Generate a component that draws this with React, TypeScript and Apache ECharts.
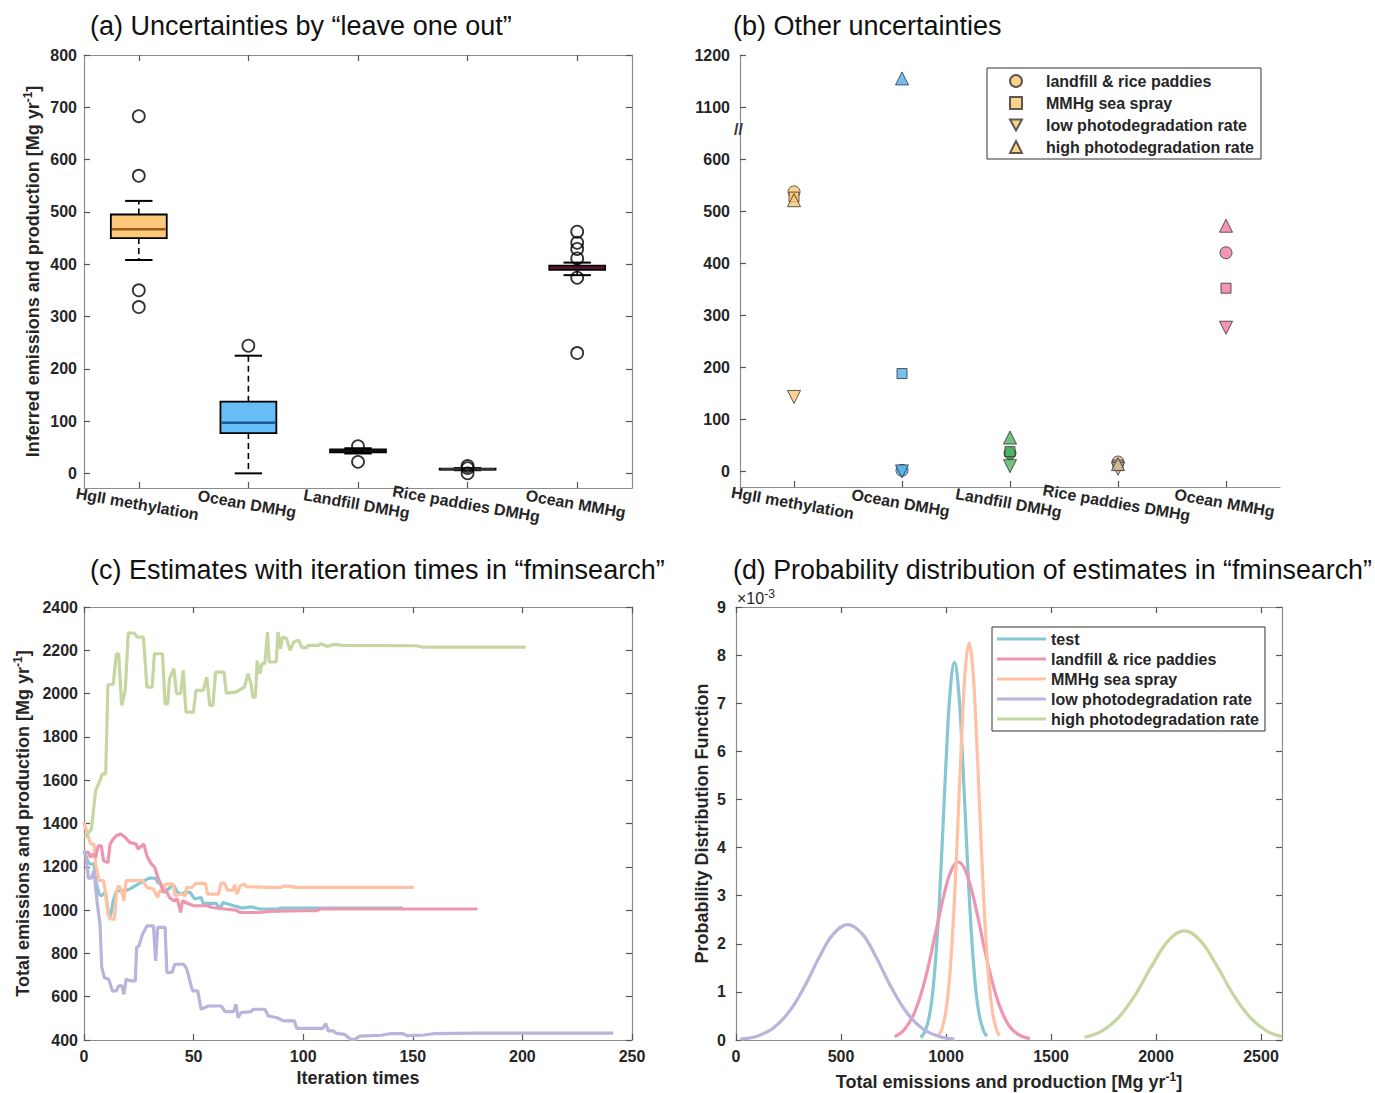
import React, { useEffect, useRef } from 'react';
import * as echarts from 'echarts';

const FONT = '"Liberation Sans", Arial, Helvetica, sans-serif';
const AXIS_GRAY = '#8c8c8c';
const TXT = '#262626';

// ---------- Panel (a): leave-one-out box plots ----------
const categories = ['HgII methylation', 'Ocean DMHg', 'Landfill DMHg', 'Rice paddies DMHg', 'Ocean MMHg'];
const boxLow = [408, 0, 38, 6, 379];
const boxQ1 = [450, 77, 40, 7, 389];
const boxMedian = [467, 97, 43, 8, 393];
const boxQ3 = [495, 137, 46, 9, 397];
const boxHigh = [521, 225, 48, 10, 403];
const outlierCategory = [0, 0, 0, 0, 1, 2, 2, 3, 3, 3, 4, 4, 4, 4, 4, 4];
const outlierValues = [683, 569, 350, 318, 244, 52, 22, 14, 10, 0, 462, 441, 429, 411, 374, 230];
const boxFill = ['#fec97c', '#66bdf7', '#2c6a3a', '#c9b79c', '#8e214e'];
const boxMedianColor = ['#9a5a18', '#1b5b95', '#111111', '#333333', '#5a0f30'];
const yTicksA = [0, 100, 200, 300, 400, 500, 600, 700, 800];

// ---------- Panel (b): other uncertainties ----------
const scenarioNames = ['landfill & rice paddies', 'MMHg sea spray', 'low photodegradation rate', 'high photodegradation rate'];
const circleValues = [537, 2, 35, 18, 420];
const squareValues = [527, 188, 38, 12, 352];
const downTriValues = [143, 0, 10, 5, 276];
const upTriValues = [521, 1155, 65, 14, 472];
const categoryColors = ['#fdc672', '#4fb0ee', '#52b264', '#d6b796', '#f07aa0'];
const circleColors = ['#fdc672', '#4fb0ee', '#129a3a', '#d6b796', '#f07aa0'];
const yTicksB = [0, 100, 200, 300, 400, 500, 600, 1100, 1200];
const BREAK_ABOVE = 1000;
const BREAK_SHIFT = 400;
const brk = (v: number) => (v > BREAK_ABOVE ? v - BREAK_SHIFT : v);
const unbrk = (v: number) => (v > BREAK_ABOVE - BREAK_SHIFT ? v + BREAK_SHIFT : v);

// ---------- Panel (c): estimates vs iteration ----------
const testIter = [[0,1274],[2,1220],[3,1213],[4.6,1213],[5.3,1136],[6.9,1074],[7.9,1066],[9.9,1082],[10.9,997],[11.9,958],[13.3,1043],[14.8,1089],[18.8,1089],[20.8,1097],[24.7,1120],[29.7,1148],[32.7,1148],[33.6,1128],[35,1120],[36.6,1089],[38.6,1097],[40.6,1120],[42.6,1082],[44.5,1074],[46.1,1082],[48.5,1082],[50.5,1051],[53.4,1058],[54.4,1031],[60.4,1031],[62,1005],[63.4,1035],[68.3,1020],[72.2,1009],[76.2,1015],[80.2,1005],[88.1,1005],[90,1009],[145.5,1009]];
const landfillIter = [[0,1267],[2,1267],[3,1243],[4,1259],[5.3,1243],[6.5,1297],[7.9,1297],[8.9,1228],[10.9,1220],[11.9,1305],[13.3,1328],[14.8,1344],[16.8,1351],[18.8,1336],[20.8,1313],[23.8,1305],[24.7,1282],[27.3,1305],[28.7,1251],[30.7,1213],[32.3,1197],[33.6,1154],[35,1120],[36.2,1082],[37.6,1089],[39,1058],[41,1043],[42.6,1051],[44.1,989],[44.9,1043],[46.5,1035],[47.9,1028],[50.1,1020],[56.4,1020],[58.4,1012],[64.3,1005],[69.3,1000],[71.3,989],[80.2,989],[84.1,994],[100,997],[105.9,997],[107.9,1005],[179.5,1005]];
const seaSprayIter = [[0,1405],[2,1336],[3,1305],[4.6,1305],[5.3,1213],[6.9,1136],[8.9,1136],[9.9,1074],[10.9,981],[12.5,958],[13.9,958],[14.8,1082],[15.8,1113],[17.2,1089],[18.2,1043],[19.2,1136],[26.7,1136],[28.7,1105],[31.7,1097],[33.6,1058],[34.6,1089],[36.2,1089],[37,1120],[40.6,1120],[41.6,1066],[44.5,1074],[46.1,1066],[46.9,1105],[49.5,1105],[50.9,1123],[55.4,1123],[56.4,1074],[61.4,1074],[62.4,1123],[64.3,1123],[65.3,1092],[67.9,1092],[68.7,1117],[69.8,1074],[71.3,1113],[73.2,1120],[74.2,1108],[84.1,1105],[90,1105],[91,1111],[94,1111],[96,1105],[150.4,1105]];
const lowIter = [[0,1274],[1,1243],[2,1148],[3.4,1148],[4.6,1182],[5.9,1043],[7.3,935],[8.1,735],[9.3,688],[11.3,681],[12.9,627],[14.8,627],[15.8,650],[17.4,650],[18.2,611],[19.2,681],[21.4,673],[23.4,673],[24,827],[25.1,835],[26.7,889],[28.7,927],[31.7,927],[32.7,765],[33.6,920],[37,920],[37.8,712],[40.2,712],[41.4,750],[45.5,750],[46.9,727],[47.9,688],[49.5,627],[51.9,627],[53.4,542],[56.8,557],[62.7,557],[64.3,531],[68.3,531],[69.3,565],[70.3,503],[71.7,527],[76.2,531],[77.2,542],[82.5,542],[84.1,511],[88.1,503],[91,488],[96,488],[97,454],[108.9,454],[110.3,476],[111.4,442],[113.8,442],[114.8,432],[118.8,426],[121.7,403],[123.7,403],[125.7,418],[135.6,422],[139.5,429],[145.5,429],[147.5,420],[155.4,423],[159.3,429],[179,432],[241.5,432]];
const highIter = [[0.4,1336],[3.4,1375],[5.3,1552],[7.3,1598],[8.3,1629],[9.9,1629],[10.9,2042],[13.3,2042],[14.8,2184],[15.8,2184],[17.2,1945],[18.8,2015],[20.2,2280],[22.8,2280],[24.3,2261],[27.1,2261],[28.7,2030],[31.1,2030],[32.1,2184],[35.8,2184],[37,1953],[38.2,1953],[39,2068],[41,2115],[42.2,2000],[44.1,2000],[45.3,2107],[46.5,1914],[49.9,1914],[51.1,2015],[54.4,2015],[56,2076],[57.4,1945],[58.8,1945],[60,2099],[63.9,2099],[64.9,2002],[69.3,2007],[73.2,2030],[74.8,2092],[76.2,2045],[77,1984],[78.2,1984],[79,2153],[80.2,2092],[81.2,2138],[82.5,2138],[83.7,2284],[84.5,2146],[87.7,2146],[88.5,2284],[89.7,2207],[90.5,2261],[92.4,2254],[94,2200],[95.6,2238],[98,2246],[99.4,2212],[101.5,2212],[102.3,2223],[107,2223],[108,2230],[111,2218],[114,2227],[118,2223],[151.4,2221],[154.4,2215],[201.5,2215]];

// ---------- Panel (d): probability density (x10^-3) ----------
const testPdf = [[880,0.05],[900,0.18],[920,0.48],[940,1.13],[960,2.27],[980,3.91],[1000,5.76],[1020,7.26],[1040,7.85],[1060,7.26],[1080,5.76],[1100,3.91],[1120,2.27],[1140,1.13],[1160,0.48],[1180,0.18],[1195,0.08]];
const landfillPdf = [[755,0.07],[800,0.21],[850,0.57],[900,1.25],[950,2.22],[1000,3.19],[1030,3.57],[1059,3.70],[1090,3.55],[1120,3.15],[1150,2.59],[1200,1.57],[1250,0.77],[1300,0.30],[1350,0.10],[1400,0.03]];
const seaSprayPdf = [[966,0.10],[980,0.22],[1000,0.62],[1020,1.46],[1040,2.90],[1060,4.84],[1080,6.81],[1095,7.86],[1110,8.25],[1125,7.86],[1140,6.81],[1160,4.84],[1180,2.90],[1200,1.46],[1220,0.62],[1240,0.22],[1255,0.09]];
const lowPdf = [[20,0.02],[100,0.08],[175,0.24],[250,0.57],[325,1.10],[400,1.75],[465,2.21],[532,2.40],[600,2.21],[665,1.74],[740,1.09],[815,0.56],[890,0.23],[965,0.08],[1040,0.02]];
const highPdf = [[1660,0.06],[1740,0.18],[1820,0.46],[1900,0.93],[1980,1.54],[2060,2.07],[2135,2.27],[2210,2.07],[2290,1.54],[2370,0.93],[2450,0.46],[2530,0.18],[2600,0.07]];
const xTicksD = [0, 500, 1000, 1500, 2000, 2500];

const runNames = ['test', 'landfill & rice paddies', 'MMHg sea spray', 'low photodegradation rate', 'high photodegradation rate'];
const runColors = ['#86c7d3', '#ee95b0', '#ffc1a4', '#b8b4dc', '#c5d6a0'];

const plain = (v: number) => String(v);
const labelStyle = { color: TXT, fontSize: 16, fontWeight: 'bold' as const, fontFamily: FONT, formatter: plain };
const axisLine = { show: true, onZero: false, lineStyle: { color: AXIS_GRAY, width: 1.2 } };
const tickIn = { show: true, inside: true, length: 6, lineStyle: { color: '#555', width: 1.2 } };
const nameStyle = {
  color: TXT, fontSize: 18, fontWeight: 'bold' as const, fontFamily: FONT, lineHeight: 22,
  rich: { sup: { fontSize: 12, fontWeight: 'bold' as const, color: TXT, fontFamily: FONT, verticalAlign: 'top' as const, lineHeight: 12 } },
};

function buildOption(): any {
  const grids = [
    { left: 84, top: 55, width: 548, height: 433 },
    { left: 740, top: 55, width: 540, height: 432 },
    { left: 84, top: 607, width: 548, height: 433 },
    { left: 736, top: 607, width: 546, height: 433 },
  ].map((g) => ({ ...g, outerBoundsMode: 'none', containLabel: false }));

  const catLabel = { color: TXT, fontSize: 16, fontWeight: 'bold', fontFamily: FONT, interval: 0, rotate: -10, align: 'center', verticalAlign: 'top', margin: 8 };

  const xAxis = [
    { gridIndex: 0, type: 'category', data: categories, boundaryGap: true, axisLine, axisTick: { ...tickIn, alignWithLabel: true, interval: 0 }, axisLabel: catLabel, splitLine: { show: false } },
    { gridIndex: 0, type: 'category', position: 'top', data: categories, boundaryGap: true, axisLine, axisTick: { ...tickIn, alignWithLabel: true, interval: 0 }, axisLabel: { show: false }, splitLine: { show: false } },
    { gridIndex: 1, type: 'category', data: categories, boundaryGap: true, axisLine, axisTick: { ...tickIn, alignWithLabel: true, interval: 0 }, axisLabel: catLabel, splitLine: { show: false } },
    { gridIndex: 2, type: 'value', min: 0, max: 250, interval: 50, axisLine, axisTick: tickIn, axisLabel: { ...labelStyle, margin: 8 }, splitLine: { show: false },
      name: 'Iteration times', nameLocation: 'middle', nameGap: 27, nameTextStyle: nameStyle },
    { gridIndex: 2, type: 'value', position: 'top', min: 0, max: 250, interval: 50, axisLine, axisTick: tickIn, axisLabel: { show: false }, splitLine: { show: false } },
    { gridIndex: 3, type: 'value', min: 0, max: 2600, axisLine, axisTick: { ...tickIn, customValues: xTicksD }, axisLabel: { ...labelStyle, margin: 8, customValues: xTicksD }, splitLine: { show: false },
      name: 'Total emissions and production [Mg yr{sup|-1}]', nameLocation: 'middle', nameGap: 31, nameTextStyle: nameStyle },
    { gridIndex: 3, type: 'value', position: 'top', min: 0, max: 2600, axisLine, axisTick: { ...tickIn, customValues: xTicksD }, axisLabel: { show: false, customValues: xTicksD }, splitLine: { show: false } },
  ];

  const yAxis = [
    { gridIndex: 0, type: 'value', min: -28, max: 800, axisLine, axisTick: { ...tickIn, customValues: yTicksA }, axisLabel: { ...labelStyle, margin: 7, customValues: yTicksA }, splitLine: { show: false },
      name: 'Inferred emissions and production [Mg yr{sup|-1}]', nameLocation: 'middle', nameRotate: 90, nameGap: 40, nameTextStyle: nameStyle },
    { gridIndex: 0, type: 'value', position: 'right', min: -28, max: 800, axisLine, axisTick: { ...tickIn, customValues: yTicksA }, axisLabel: { show: false, customValues: yTicksA }, splitLine: { show: false } },
    { gridIndex: 1, type: 'value', min: -30, max: brk(1200), axisLine, axisTick: { ...tickIn, customValues: yTicksB.map(brk) },
      axisLabel: { ...labelStyle, margin: 10, customValues: yTicksB.map(brk), formatter: (v: number) => String(unbrk(v)) }, splitLine: { show: false } },
    { gridIndex: 2, type: 'value', min: 400, max: 2400, interval: 200, axisLine, axisTick: tickIn, axisLabel: { ...labelStyle, margin: 6 }, splitLine: { show: false },
      name: 'Total emissions and production [Mg yr{sup|-1}]', nameLocation: 'middle', nameRotate: 90, nameGap: 50, nameTextStyle: nameStyle },
    { gridIndex: 2, type: 'value', position: 'right', min: 400, max: 2400, interval: 200, axisLine, axisTick: tickIn, axisLabel: { show: false }, splitLine: { show: false } },
    { gridIndex: 3, type: 'value', min: 0, max: 9, interval: 1, axisLine, axisTick: tickIn, axisLabel: { ...labelStyle, margin: 10 }, splitLine: { show: false },
      name: 'Probability Distribution Function', nameLocation: 'middle', nameRotate: 90, nameGap: 22, nameTextStyle: nameStyle },
    { gridIndex: 3, type: 'value', position: 'right', min: 0, max: 9, interval: 1, axisLine, axisTick: tickIn, axisLabel: { show: false }, splitLine: { show: false } },
  ];

  const boxData = categories.map((_, i) => [i, boxLow[i], boxQ1[i], boxMedian[i], boxQ3[i], boxHigh[i]]);

  const boxSeries = {
    type: 'custom', name: 'box', xAxisIndex: 0, yAxisIndex: 0, clip: false,
    encode: { x: 0, y: [1, 2, 3, 4, 5] },
    data: boxData,
    renderItem: (params: any, api: any) => {
      const ci = api.value(0);
      const cx = api.coord([ci, api.value(3)])[0];
      const yLow = api.coord([ci, api.value(1)])[1];
      const yQ1 = api.coord([ci, api.value(2)])[1];
      const yMed = api.coord([ci, api.value(3)])[1];
      const yQ3 = api.coord([ci, api.value(4)])[1];
      const yHigh = api.coord([ci, api.value(5)])[1];
      const band = api.size([1, 0])[0];
      const bw = band * 0.51;
      const cw = band * 0.25;
      const idx = params.dataIndex;
      const dash = { stroke: '#000', lineWidth: 1.6, lineDash: [6, 4] };
      const cap = { stroke: '#000', lineWidth: 2 };
      return {
        type: 'group',
        children: [
          { type: 'line', shape: { x1: cx, y1: yQ3, x2: cx, y2: yHigh }, style: dash },
          { type: 'line', shape: { x1: cx, y1: yQ1, x2: cx, y2: yLow }, style: dash },
          { type: 'line', shape: { x1: cx - cw / 2, y1: yHigh, x2: cx + cw / 2, y2: yHigh }, style: cap },
          { type: 'line', shape: { x1: cx - cw / 2, y1: yLow, x2: cx + cw / 2, y2: yLow }, style: cap },
          { type: 'rect', shape: { x: cx - bw / 2, y: yQ3, width: bw, height: Math.max(yQ1 - yQ3, 1) }, style: { fill: boxFill[idx], stroke: '#000', lineWidth: 1.8 } },
          { type: 'line', shape: { x1: cx - bw / 2 + 1, y1: yMed, x2: cx + bw / 2 - 1, y2: yMed }, style: { stroke: boxMedianColor[idx], lineWidth: 2.5 } },
        ],
      };
    },
  };

  const outlierSeries = {
    type: 'scatter', name: 'outliers', xAxisIndex: 0, yAxisIndex: 0, symbol: 'circle', symbolSize: 12,
    itemStyle: { color: 'rgba(0,0,0,0)', borderColor: '#000', borderWidth: 1.8 },
    data: outlierValues.map((v, i) => [outlierCategory[i], v]),
    z: 5,
  };

  const downTri = 'path://M0,0L10,0L5,9Z';
  const scenarioDefs = [
    { values: circleValues, symbol: 'circle', size: 12, colors: circleColors },
    { values: squareValues, symbol: 'rect', size: 10, colors: categoryColors },
    { values: downTriValues, symbol: downTri, size: 13, colors: categoryColors },
    { values: upTriValues, symbol: 'triangle', size: 13, colors: categoryColors },
  ];
  const scatterB = scenarioDefs.map((d, s) => ({
    type: 'scatter', name: scenarioNames[s], xAxisIndex: 2, yAxisIndex: 2,
    symbol: d.symbol, symbolSize: d.size,
    itemStyle: { color: '#fdc672', borderColor: '#333', borderWidth: 1 },
    data: d.values.map((v, i) => ({ value: [i, brk(v)], itemStyle: { color: d.colors[i] } })),
    z: 3 + s,
  }));

  const iterData = [testIter, landfillIter, seaSprayIter, lowIter, highIter];
  const iterOrder = [0, 2, 1, 3, 4];
  const lineC = iterOrder.map((k) => ({
    type: 'line', name: 'c:' + runNames[k], xAxisIndex: 3, yAxisIndex: 3, data: iterData[k],
    symbol: 'none', showSymbol: false, lineStyle: { color: runColors[k], width: 3.2 }, itemStyle: { color: runColors[k] },
  }));

  const pdfData = [testPdf, landfillPdf, seaSprayPdf, lowPdf, highPdf];
  const lineD = pdfData.map((d, k) => ({
    type: 'line', name: 'd:' + runNames[k], xAxisIndex: 5, yAxisIndex: 5, data: d, smooth: 0.4,
    symbol: 'none', showSymbol: false, lineStyle: { color: runColors[k], width: 3.2 }, itemStyle: { color: runColors[k] },
  }));

  const titleStyle = { fontSize: 27, fontWeight: 'normal', color: '#111', fontFamily: FONT };
  return {
    animation: false,
    backgroundColor: '#ffffff',
    textStyle: { fontFamily: FONT },
    title: [
      { text: '(a) Uncertainties by “leave one out”', left: 90, top: 12, padding: 0, textStyle: titleStyle },
      { text: '(b) Other uncertainties', left: 733, top: 12, padding: 0, textStyle: titleStyle },
      { text: '(c) Estimates with iteration times in “fminsearch”', left: 90, top: 556, padding: 0, textStyle: titleStyle },
      { text: '(d) Probability distribution of estimates in “fminsearch”', left: 733, top: 556, padding: 0, textStyle: { ...titleStyle, fontSize: 26.8 } },
    ],
    legend: [
      {
        data: scenarioNames, orient: 'vertical', left: 987, top: 68,
        padding: [5, 7, 4, 22], itemGap: 6, itemWidth: 12, itemHeight: 12,
        borderColor: '#333', borderWidth: 1, backgroundColor: '#fff',
        textStyle: { color: TXT, fontSize: 16, fontWeight: 'bold', fontFamily: FONT, lineHeight: 16, padding: [0, 0, 0, 19] },
        selectedMode: false,
      },
      {
        data: runNames.map((n) => 'd:' + n), orient: 'vertical', left: 992, top: 627,
        padding: [4, 6, 4, 5], itemGap: 4, itemWidth: 49, itemHeight: 14,
        icon: 'path://M0,0H49V3H0Z',
        borderColor: '#333', borderWidth: 1, backgroundColor: '#fff',
        formatter: (n: string) => n.slice(2),
        textStyle: { color: TXT, fontSize: 16, fontWeight: 'bold', fontFamily: FONT, lineHeight: 16 },
        selectedMode: false,
      },
    ],
    graphic: [
      { type: 'text', left: 734, top: 121, z: 10, style: { text: '//', fontSize: 16, fontWeight: 'bold', fill: '#333', fontFamily: FONT } },
      {
        type: 'text', left: 737, top: 588, z: 10,
        style: {
          text: '×10{sup|-3}', fontSize: 16, fill: TXT, fontFamily: FONT, lineHeight: 20,
          rich: { sup: { fontSize: 12, fill: TXT, fontFamily: FONT, verticalAlign: 'top', lineHeight: 12 } },
        },
      },
    ],
    grid: grids,
    xAxis,
    yAxis,
    series: [boxSeries, outlierSeries, ...scatterB, ...lineC, ...lineD],
  };
}

export default function App() {
  const ref = useRef<HTMLDivElement | null>(null);
  useEffect(() => {
    document.body.style.margin = '0';
    document.body.style.overflow = 'hidden';
    if (!ref.current) return;
    const chart = echarts.init(ref.current, undefined, { renderer: 'svg' });
    chart.setOption(buildOption());
    return () => chart.dispose();
  }, []);
  return <div ref={ref} style={{ width: 1375, height: 1093, background: '#fff' }} />;
}
